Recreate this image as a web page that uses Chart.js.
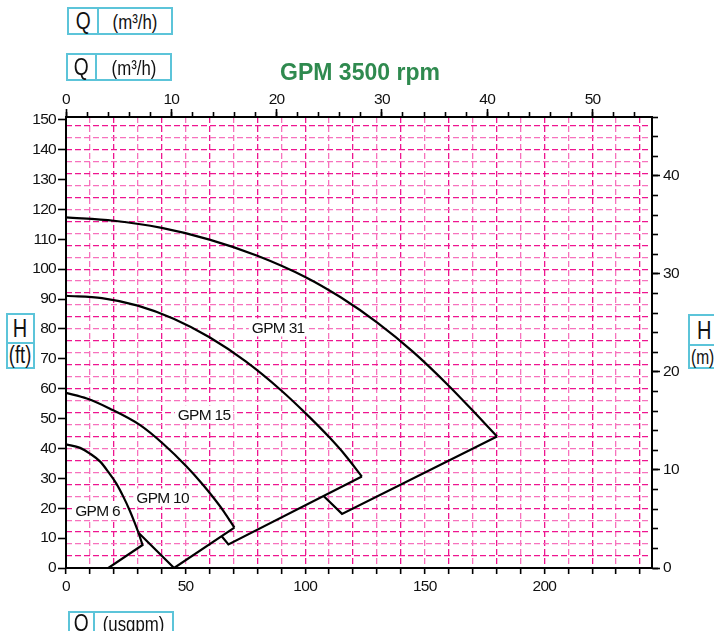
<!DOCTYPE html>
<html>
<head>
<meta charset="utf-8">
<script src="https://cdn.jsdelivr.net/npm/chart.js@4.4.0/dist/chart.umd.min.js"></script>
<style>
html,body{margin:0;padding:0;background:#fff;}
#wrap{position:relative;width:714px;height:631px;overflow:hidden;font-family:'Liberation Sans',Arial,sans-serif;color:#111;}
#c{position:absolute;left:0;top:0;}
.box{position:absolute;border:2px solid #5cc4d9;box-sizing:border-box;display:flex;background:#fff;}
.box .cell{display:flex;align-items:center;justify-content:center;line-height:1;}
.n{display:inline-block;transform:scaleX(0.8);transform-origin:center;white-space:nowrap;}
.row .q{border-right:2px solid #5cc4d9;font-size:24px;}
.row .u{flex:1;font-size:21px;}
.col{flex-direction:column;}
.col .hh{border-bottom:2px solid #5cc4d9;font-size:25px;}
.col .uu{flex:1;font-size:23px;}
#title{position:absolute;left:210px;width:300px;top:61px;text-align:center;font-weight:bold;font-size:23px;line-height:23px;color:#2f8a4f;}
</style>
</head>
<body>
<div id="wrap">
  <canvas id="c" width="714" height="631"></canvas>
  <div class="box row" style="left:67px;top:7px;width:106px;height:28px;"><div class="cell q" style="width:28px;"><span class="n">Q</span></div><div class="cell u"><span class="n">(m³/h)</span></div></div>
  <div class="box row" style="left:66px;top:53px;width:106px;height:28px;"><div class="cell q" style="width:27px;"><span class="n">Q</span></div><div class="cell u"><span class="n">(m³/h)</span></div></div>
  <div class="box row" style="left:68px;top:611px;width:106px;height:24px;"><div class="cell q" style="width:28px;"><span class="n">Q</span></div><div class="cell u"><span class="n">(usgpm)</span></div></div>
  <div class="box col" style="left:6px;top:313px;width:29px;height:56px;"><div class="cell hh" style="height:29px;"><span class="n">H</span></div><div class="cell uu"><span class="n">(ft)</span></div></div>
  <div class="box col" style="left:688px;top:314px;width:30px;height:55px;"><div class="cell hh" style="height:28px;justify-content:flex-start;padding-left:7px;"><span class="n" style="transform-origin:left center;">H</span></div><div class="cell uu" style="justify-content:flex-start;padding-left:1px;font-size:21px;"><span class="n" style="transform-origin:left center;transform:scaleX(0.74);">(m)</span></div></div>
  <div id="title">GPM 3500 rpm</div>
</div>
<script>
// ---- data (flow in US gpm, head in ft) ----
const gpm6Q  = [0, 5.9, 10, 14.3, 18, 21, 24, 26.5, 28.5, 30.3];
const gpm6H  = [41.4, 40.2, 38.3, 35.6, 31.8, 28.3, 23.8, 19.5, 15.6, 11.8];
const gpm6TailQ = [30.3, 32.0, 17.7];
const gpm6TailH = [11.8, 7.7, 0];

const gpm10Q = [0, 8.7, 18.4, 31, 40.7, 50.5, 56.8, 61.6, 66, 70.4];
const gpm10H = [58.6, 56.7, 53.3, 47.8, 41.5, 33.9, 28.3, 23.6, 18.9, 13.5];
const gpm10TailQ = [70.4, 45.2, 30.3];
const gpm10TailH = [13.5, 0, 11.8];

const gpm15Q = [0, 15, 30, 45, 60, 75, 90, 100, 110, 117, 123.7];
const gpm15H = [91.1, 90.3, 87.8, 83.4, 77.2, 69.2, 59.4, 51.9, 43.8, 37.5, 30.6];
const gpm15TailQ = [123.7, 67.9, 65.1];
const gpm15TailH = [30.6, 7.9, 10.6];

const gpm31Q = [0, 20, 40, 60, 80, 100, 115, 130, 145, 160, 172, 180.2];
const gpm31H = [117.3, 116.2, 113.8, 109.9, 104.5, 97.4, 90.5, 82.2, 72.4, 61.0, 51.0, 44.0];
const gpm31TailQ = [180.2, 115.4, 107.7];
const gpm31TailH = [44.0, 18.1, 24.1];

const curveNames = ['GPM 6', 'GPM 10', 'GPM 15', 'GPM 31'];
const nameQ = [13.2, 40.4, 57.7, 88.7];
const nameH = [19.3, 23.6, 51.4, 80.5];

// axis ranges
const usgpmMax = 245;
const m3hMax = usgpmMax / 4.40287;
const mMax = 46;
const ftMax = mMax * 3.28084;

const FONT = "'Liberation Sans',Arial,sans-serif";
const GRID_DARK = '#ee1690';
const GRID_LIGHT = '#f772bd';
const SPACING = '-0.7px';

function pts(q, h) { return q.map((x, i) => ({x: x, y: h[i]})); }
function curve(q, h) {
  return {data: pts(q, h), borderColor: '#000', borderWidth: 2.2, pointRadius: 0, fill: false,
          tension: 0.4, cubicInterpolationMode: 'monotone', xAxisID: 'x', yAxisID: 'y'};
}
function tail(q, h) {
  return {data: pts(q, h), borderColor: '#000', borderWidth: 2.2, pointRadius: 0, fill: false,
          tension: 0, xAxisID: 'x', yAxisID: 'y', borderJoinStyle: 'miter'};
}

const narrowPlugin = {
  id: 'narrowText',
  beforeDraw(chart) { if ('letterSpacing' in chart.ctx) chart.ctx.letterSpacing = SPACING; }
};

const labelPlugin = {
  id: 'curveNames',
  beforeDatasetsDraw(chart) {
    const ctx = chart.ctx, xs = chart.scales.x, ys = chart.scales.y;
    ctx.save();
    if ('letterSpacing' in ctx) ctx.letterSpacing = SPACING;
    ctx.font = '15.5px ' + FONT;
    ctx.textAlign = 'center';
    ctx.textBaseline = 'middle';
    curveNames.forEach((t, i) => {
      const px = xs.getPixelForValue(nameQ[i]);
      const py = ys.getPixelForValue(nameH[i]);
      const w = ctx.measureText(t).width;
      ctx.fillStyle = '#fff';
      ctx.fillRect(px - w / 2 - 3, py - 9, w + 6, 18);
      ctx.fillStyle = '#111';
      ctx.fillText(t, px, py + 1);
    });
    ctx.restore();
  }
};

const tickFont = {family: FONT, size: 15.5};

new Chart(document.getElementById('c'), {
  type: 'line',
  data: {
    datasets: [
      curve(gpm6Q, gpm6H), tail(gpm6TailQ, gpm6TailH),
      curve(gpm10Q, gpm10H), tail(gpm10TailQ, gpm10TailH),
      curve(gpm15Q, gpm15H), tail(gpm15TailQ, gpm15TailH),
      curve(gpm31Q, gpm31H), tail(gpm31TailQ, gpm31TailH)
    ]
  },
  options: {
    responsive: false,
    animation: false,
    devicePixelRatio: 1,
    layout: {padding: 0},
    plugins: {legend: {display: false}, tooltip: {enabled: false}, title: {display: false}},
    scales: {
      x: {
        type: 'linear', position: 'bottom', min: 0, max: usgpmMax, weight: 0,
        ticks: {stepSize: 10, includeBounds: false, autoSkip: false, maxRotation: 0, padding: 3, color: '#111', font: tickFont,
                callback: v => (v % 50 === 0 ? String(v) : '')},
        grid: {drawOnChartArea: true, drawTicks: true, tickLength: 6, lineWidth: 1.3,
               color: c => (c.index % 2 ? GRID_LIGHT : GRID_DARK), tickColor: '#000', tickWidth: 1.6},
        border: {display: true, color: '#000', width: 2, dash: [6, 3], z: 1},
        afterFit: s => { s.height = 63; }
      },
      x2: {
        type: 'linear', position: 'top', min: 0, max: m3hMax, weight: 0,
        ticks: {stepSize: 2, includeBounds: false, display: false},
        grid: {drawOnChartArea: false, drawTicks: true, tickLength: 5, tickColor: '#000', tickWidth: 1.6},
        border: {display: false},
        afterFit: s => { s.height = 0; }
      },
      x3: {
        type: 'linear', position: 'top', min: 0, max: m3hMax, weight: 1,
        ticks: {stepSize: 10, includeBounds: false, autoSkip: false, maxRotation: 0, padding: 0, color: '#111', font: tickFont},
        grid: {drawOnChartArea: false, drawTicks: true, tickLength: 8, tickColor: '#000', tickWidth: 1.6},
        border: {display: true, color: '#000', width: 2, z: 1},
        afterFit: s => { s.height = 117; }
      },
      y: {
        type: 'linear', position: 'left', min: 0, max: ftMax, weight: 1,
        ticks: {stepSize: 10, includeBounds: false, autoSkip: false, padding: 2, color: '#111', font: tickFont},
        grid: {drawOnChartArea: false, drawTicks: true, tickLength: 8, tickColor: '#000', tickWidth: 1.6},
        border: {display: true, color: '#000', width: 2, z: 1},
        afterFit: s => { s.width = 66; }
      },
      yg: {
        type: 'linear', position: 'left', min: 0, max: ftMax, weight: 0,
        ticks: {stepSize: 4, includeBounds: false, display: false},
        grid: {drawOnChartArea: true, drawTicks: false, lineWidth: 1.3,
               color: c => (c.index % 2 ? GRID_DARK : GRID_LIGHT)},
        border: {display: false, dash: [6, 3]},
        afterFit: s => { s.width = 0; }
      },
      y2: {
        type: 'linear', position: 'right', min: 0, max: mMax, weight: 0,
        ticks: {stepSize: 2, includeBounds: false, display: false},
        grid: {drawOnChartArea: false, drawTicks: true, tickLength: 6, tickColor: '#000', tickWidth: 1.6},
        border: {display: false},
        afterFit: s => { s.width = 0; }
      },
      y3: {
        type: 'linear', position: 'right', min: 0, max: mMax, weight: 1,
        ticks: {stepSize: 10, includeBounds: false, autoSkip: false, padding: 3, color: '#111', font: tickFont},
        grid: {drawOnChartArea: false, drawTicks: true, tickLength: 8, tickColor: '#000', tickWidth: 1.6},
        border: {display: true, color: '#000', width: 2, z: 1},
        afterFit: s => { s.width = 62; }
      }
    }
  },
  plugins: [narrowPlugin, labelPlugin]
});
</script>
</body>
</html>
